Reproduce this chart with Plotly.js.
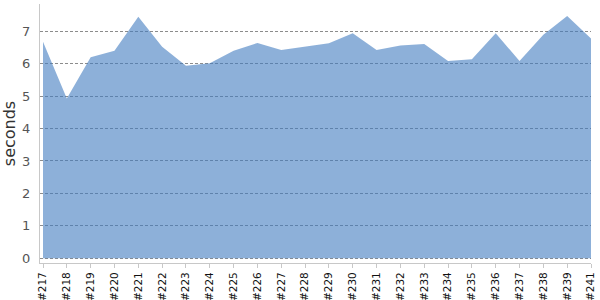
<!DOCTYPE html>
<html>
<head>
<meta charset="utf-8">
<script src="https://cdn.plot.ly/plotly-3.0.1.min.js"></script>
<style>html,body{margin:0;padding:0;background:#fff;}#chart{width:600px;height:300px;}</style>
</head>
<body>
<div id="chart"></div>
<script>
var builds = ["#217","#218","#219","#220","#221","#222","#223","#224","#225","#226","#227","#228","#229","#230","#231","#232","#233","#234","#235","#236","#237","#238","#239","#241"];
var seconds = [6.68,4.93,6.20,6.40,7.45,6.52,5.94,6.01,6.40,6.64,6.42,6.52,6.63,6.94,6.42,6.56,6.61,6.08,6.14,6.94,6.08,6.89,7.47,6.78];
var yTicks = [0,1,2,3,4,5,6,7];

var trace = {
  x: builds,
  y: seconds,
  type: 'scatter',
  mode: 'lines',
  fill: 'tozeroy',
  fillcolor: 'rgba(65,123,192,0.6)',
  line: {width: 0, color: 'rgba(0,0,0,0)'},
  hoverinfo: 'x+y'
};

var layout = {
  width: 600, height: 300,
  margin: {l: 40, r: 9, t: 4, b: 37, pad: 0},
  paper_bgcolor: '#fff',
  plot_bgcolor: '#fff',
  showlegend: false,
  font: {family: 'DejaVu Sans, sans-serif', color: '#444'},
  xaxis: {
    type: 'category',
    range: [-0.126, 23],
    showgrid: false,
    zeroline: false,
    showline: true,
    linecolor: '#c8c8c8',
    linewidth: 1,
    ticks: 'outside',
    ticklen: 4,
    tickcolor: '#c8c8c8',
    tickangle: -90,
    tickfont: {family: 'DejaVu Sans, sans-serif', size: 10.5, color: '#111'},
    fixedrange: true
  },
  yaxis: {
    range: [-0.145, 7.84],
    tickvals: yTicks,
    ticktext: yTicks.map(String),
    showgrid: true,
    gridcolor: '#8c8c8c',
    griddash: '3px,2px',
    gridwidth: 1,
    zeroline: false,
    showline: true,
    linecolor: '#c8c8c8',
    linewidth: 1,
    ticks: '',
    ticklabelstandoff: 6,
    tickfont: {family: 'DejaVu Sans, sans-serif', size: 13, color: '#555'},
    title: {text: 'seconds', font: {family: 'DejaVu Sans, sans-serif', size: 16, color: '#333'}, standoff: 2},
    fixedrange: true
  }
};

Plotly.newPlot('chart', [trace], layout, {displayModeBar: false, staticPlot: true});
</script>
</body>
</html>
